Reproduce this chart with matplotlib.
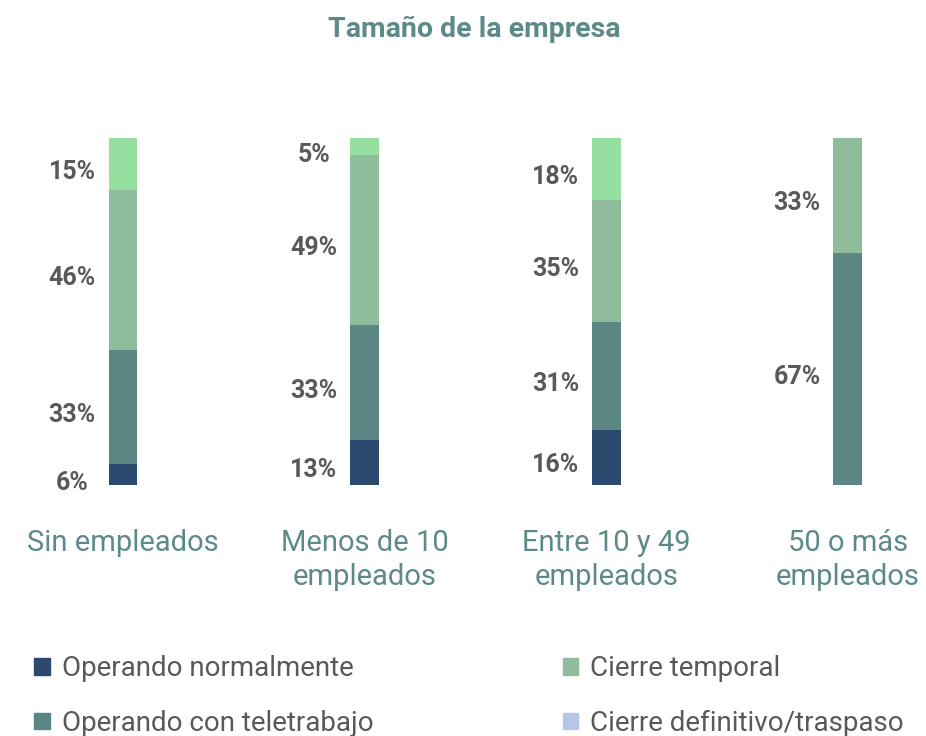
import numpy as np
import matplotlib.pyplot as plt
import matplotlib.patches as mpatches

plt.rcParams['font.family'] = ['Roboto', 'DejaVu Sans']

categories = ['Sin empleados', 'Menos de 10\nempleados', 'Entre 10 y 49\nempleados', '50 o más\nempleados']
series_names = ['Operando normalmente', 'Operando con teletrabajo', 'Cierre temporal',
                'Cierre definitivo/traspaso', 'Otra situación']
normal = [6, 13, 16, 0]
teletrabajo = [33, 33, 31, 67]
temporal = [46, 49, 35, 33]
definitivo = [0, 0, 0, 0]
otra = [15, 5, 18, 0]

colors = ['#2C4A6E', '#5A8784', '#8FBC9A', '#B4C7E7', '#95DFA1']
teal = '#5B8A88'
grey = '#595959'

values = [normal, teletrabajo, temporal, definitivo, otra]

fig = plt.figure(figsize=(9.26, 7.36), dpi=100)
ax = fig.add_axes([0, 0.341, 1, 0.4715])

x = np.arange(len(categories))
bottom = np.zeros(len(categories))
for name, vals, c in zip(series_names, values, colors):
    vals = np.array(vals, dtype=float)
    ax.bar(x, vals, bottom=bottom, width=0.12, color=c, label=name)
    for xi, b, v in zip(x, bottom, vals):
        if v > 0:
            ax.text(xi - 0.21, b + v / 2 - 2.3, '{:.0f}%'.format(v), ha='center', va='center',
                    fontsize=18, fontweight='semibold', color=grey)
    bottom += vals

ax.set_xlim(-0.509, 3.323)
ax.set_ylim(0, 100)
ax.axis('off')

for xi, lab in zip(x, categories):
    ax.annotate(lab, xy=(xi, 0), xytext=(0, -31.5), textcoords='offset points',
                ha='center', va='top', fontsize=21, color=teal, linespacing=1.3)

fig.text(0.512, 0.96, 'Tamaño de la empresa', ha='center', va='center',
         fontsize=20.5, fontweight='bold', color=teal)

handles = [mpatches.Patch(color=c, label=n) for c, n in zip(colors[:4], series_names[:4])]
leg = fig.legend(handles=handles, ncol=2, loc='upper left', bbox_to_anchor=(0.025, 0.125),
                 frameon=False, fontsize=20, handlelength=0.55, handleheight=0.55,
                 handletextpad=0.45, columnspacing=6.8, labelspacing=1.0, borderaxespad=0)
for t in leg.get_texts():
    t.set_color(grey)

plt.savefig('out.png', dpi=100)
